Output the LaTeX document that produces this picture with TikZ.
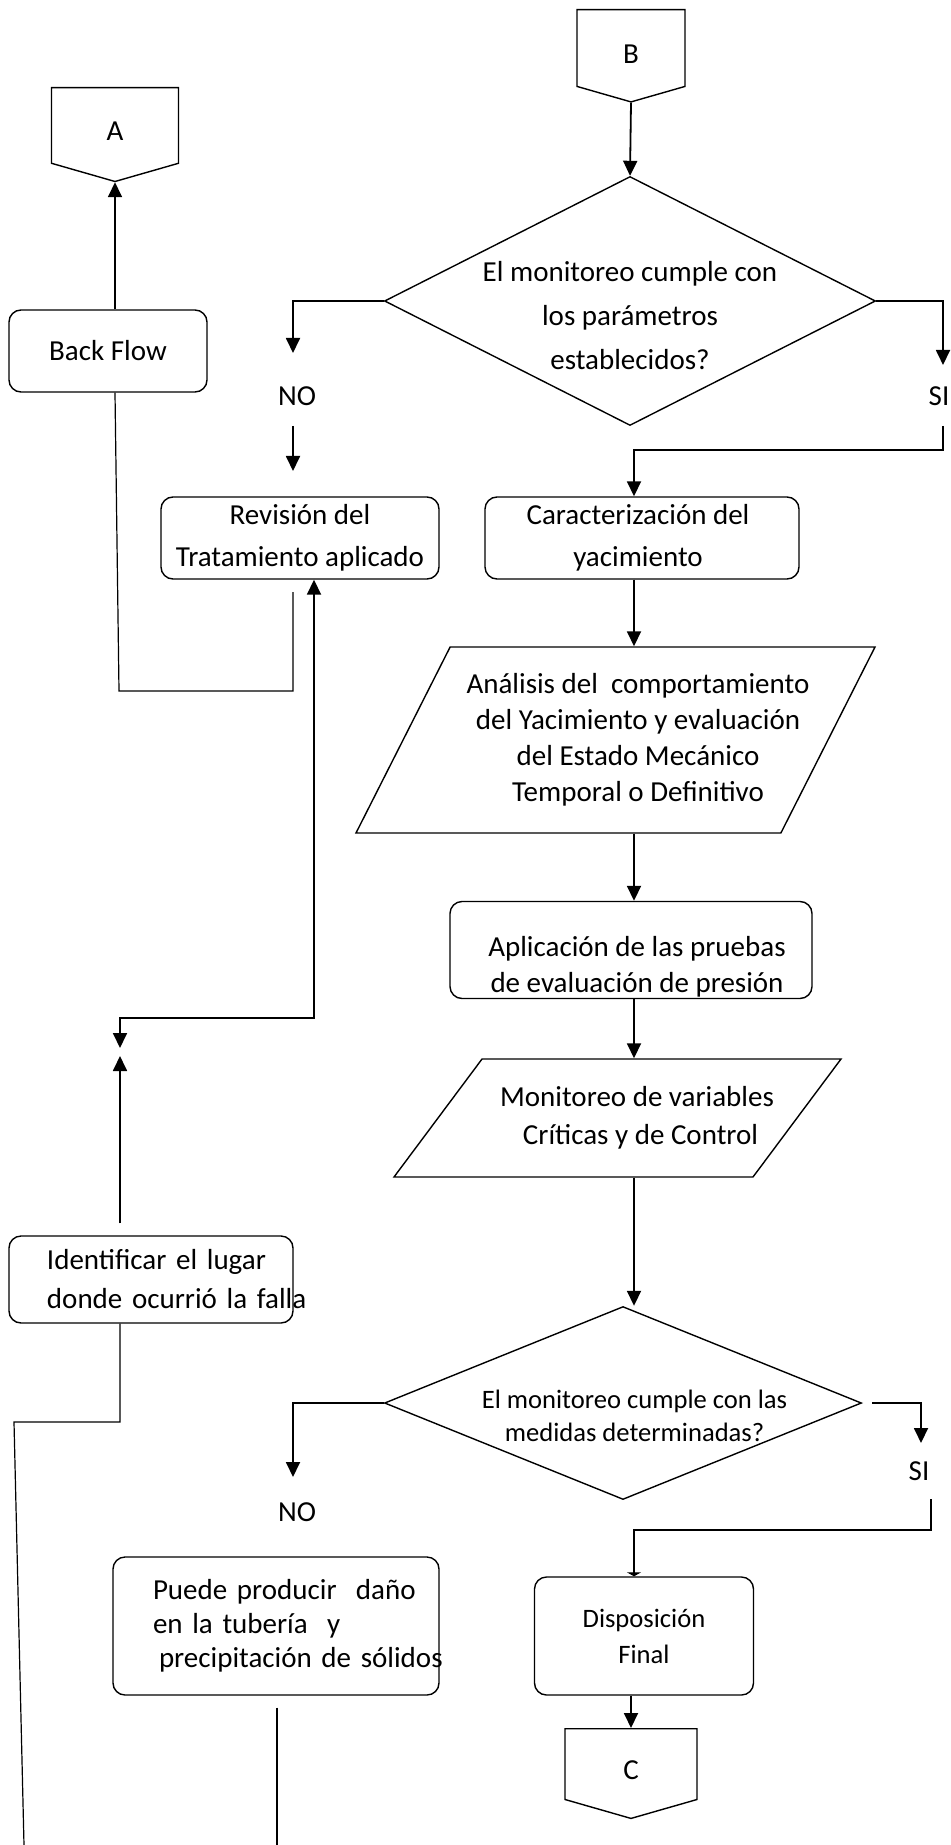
\documentclass[tikz,border=0pt]{standalone}
\usepackage{fontspec}
\setmainfont{Carlito}
\usetikzlibrary{shapes.geometric,shapes.symbols,arrows.meta}

\begin{document}
\begin{tikzpicture}[x=0.5pt, y=-0.5pt, >={Triangle[length=7.5pt,width=7pt]},
    line width=0.9pt,
    txt/.style={font=\fontsize{14.5}{#1}\selectfont}, txt/.default=18,
    small txt/.style={font=\fontsize{13.3}{#1}\selectfont}, small txt/.default=18,
    process/.style={draw, line width=0.7pt, rounded corners=6pt, align=center, inner sep=0pt},
    decision/.style={draw, line width=0.7pt, diamond, align=center},
    io box/.style 2 args={draw, line width=0.7pt, trapezium, trapezium left angle=#1,
      trapezium right angle=#2, trapezium stretches body, align=center, inner sep=0pt},
    offpage/.style={draw, line width=0.7pt, signal, signal to=south, signal from=nowhere,
      signal pointer angle=148, anchor=north, inner sep=0pt, txt},
    flowline/.style={line width=0.6pt}]
  \useasboundingbox (0,0) rectangle (950,1845);

  % connectors between pages
  \node [offpage, minimum width=63.5pt, minimum height=39pt] (A) at (115,87) {\rule{0pt}{15.5pt}A};
  \node [offpage, minimum width=54pt, minimum height=39.5pt] (B) at (631,9) {\rule{0pt}{15.5pt}B};
  \node [offpage, minimum width=66pt, minimum height=36.5pt] (C) at (631,1728) {\rule{0pt}{15.5pt}C};

  % main column
  \node [decision, txt=22, aspect=1.972, inner sep=-8pt, minimum width=245.5pt, minimum height=124.5pt]
    (cumple1) at (630,301)
    {\rule{0pt}{25pt}El monitoreo cumple con\\los parámetros\\establecidos?};
  \node [process, txt=21, minimum width=157pt, minimum height=41pt] (caract) at (642,538)
    {Caracterización del\hspace*{4pt}\\yacimiento\hspace*{4pt}};
  \node [io box={62.5}{117.5}, txt, inner xsep=-22pt, inner ysep=12pt, minimum width=259.5pt, minimum height=93pt]
    (analisis) at (615.5,740)
    {\hspace*{22.5pt}Análisis del\ \ comportamiento\\\hspace*{22.5pt}del Yacimiento y evaluación\\
     \hspace*{22.5pt}del Estado Mecánico\\\hspace*{22.5pt}Temporal o Definitivo};
  \node [process, txt, inner ysep=-2pt, minimum width=181pt, minimum height=48.5pt] (aplicacion) at (631,950)
    {\rule{0pt}{27pt}\hspace*{6pt}Aplicación de las pruebas\\\hspace*{6pt}de evaluación de presión};
  \node [io box={53}{127}, txt=19, inner xsep=-14pt, inner ysep=13.5pt, minimum width=223.5pt, minimum height=59pt]
    (monitoreo) at (617.5,1118)
    {\hspace*{19.5pt}Monitoreo de variables\\\hspace*{23pt}Críticas y de Control};
  \node [decision, small txt=16.5, aspect=2.47, inner sep=-6pt, minimum width=238.5pt, minimum height=96.5pt]
    (cumple2) at (623,1403)
    {\rule{0pt}{22pt}\hspace*{11.5pt}El monitoreo cumple con las\\\hspace*{11.5pt}medidas determinadas?};
  \node [process, small txt, minimum width=109.5pt, minimum height=59pt] (disposicion) at (644,1636)
    {Disposición\\Final};

  % left column
  \node [process, txt, minimum width=99pt, minimum height=41pt] (backflow) at (108,351) {Back Flow};
  \node [process, txt=21, minimum width=139pt, minimum height=41pt] (revision) at (300,538)
    {Revisión del\\Tratamiento aplicado};
  \node [process, txt=19.5, align=left, text width=142pt, minimum height=43.5pt] (identificar) at (151,1279.5)
    {\hspace*{19pt}Identificar el lugar\\\hspace*{19pt}\mbox{donde ocurrió la falla}};
  \node [process, txt=17, align=left, text width=163pt, minimum height=69pt] (puede) at (276,1626)
    {\hspace*{20pt}Puede producir\ \ daño\\\hspace*{20pt}en la tubería\ \ y\\\hspace*{23pt}\mbox{precipitación de sólidos}};

  % answers
  \foreach \n/\t/\x/\y in {no1/NO/297/396, si1/SI/939/396, no2/NO/297/1512, si2/SI/919/1471}
    \node [txt] (\n) at (\x,\y) {\t};

  % free ends of the connectors
  \coordinate (spine) at (634,0);
  \coordinate (bf-turn) at (119,691);
  \coordinate (rev-out) at (293,592);
  \coordinate (no1-in) at (293,353);
  \coordinate (no1-out) at (293,426);
  \coordinate (rev-in) at (293,471);
  \coordinate (si1-in) at (943,365);
  \coordinate (si1-out) at (943,426);
  \coordinate (si1-turn) at (634,450);
  \coordinate (rev-loop) at (314,1018);
  \coordinate (loop-end) at (120,1048);
  \coordinate (id-up) at (120,1056);
  \coordinate (id-corner) at (14,1422);
  \coordinate (id-end) at (24,1845);
  \coordinate (no2-in) at (293,1477);
  \coordinate (si2-in) at (921,1443);
  \coordinate (si2-out) at (931,1499);
  \coordinate (si2-turn) at (634,1530);
  \coordinate (puede-end) at (277,1845);

  % connectors
  \draw [->] (B.south) -- (cumple1.north);
  \draw [->] (cumple1.west) -| (no1-in);
  \draw [->] (no1-out) -- (rev-in);
  \draw [->] (cumple1.east) -| (si1-in);
  \draw [->] (si1-out) |- (si1-turn) -- (caract.north -| si1-turn);
  \foreach \a/\b in {caract/analisis, analisis/aplicacion, aplicacion/monitoreo, monitoreo/cumple2}
    \draw [->] (\a.south -| spine) -- (\b.north -| spine);
  \draw [->] (cumple2.west) -| (no2-in);
  \draw [->] ([xshift=5pt]cumple2.east) -| (si2-in);
  \draw [-{Triangle[length=2pt,width=7pt]}] (si2-out) |- (si2-turn) -- (disposicion.north -| si2-turn);
  \draw [->] (disposicion.south -| C.north) -- (C.north);
  \draw [->] (backflow.north -| A.south) -- (A.south);
  \draw [flowline] (backflow.south -| A.south) -- (bf-turn) -| (rev-out);
  \draw [<->] (loop-end) |- (rev-loop) -- (rev-loop |- revision.south);
  \draw [->] ([yshift=6pt]identificar.north -| id-up) -- (id-up);
  \draw [flowline] (identificar.south -| id-up) |- (id-corner) -- (id-end);
  \draw [flowline] ([yshift=-6pt]puede.south -| puede-end) -- (puede-end);
\end{tikzpicture}
\end{document}
